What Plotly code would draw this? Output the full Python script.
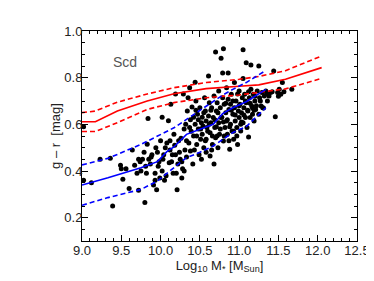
import plotly.graph_objects as go

# Scatter points (log10 M*, g-r)
pts_x = [9.02, 9.02, 9.12, 9.23, 9.36, 9.39, 9.49, 9.50, 9.56, 9.52, 9.60, 9.64, 9.67, 9.72, 9.74, 9.72, 9.70, 9.75,
         9.80, 9.83, 9.84, 9.82, 9.79, 9.85, 9.87, 9.89, 9.91, 9.93, 9.95, 9.93, 9.96, 9.98, 9.99, 10.00, 10.02, 10.02,
         10.04, 10.06, 10.07, 10.10, 10.11, 10.12, 10.13, 10.14, 10.16, 10.17, 10.19, 10.19, 10.21, 10.22, 10.23, 10.24,
         10.25, 10.26, 10.27, 10.28, 10.29, 10.30, 10.31, 10.32, 10.33, 10.34, 10.35, 10.37, 10.37, 10.38, 10.40, 10.41,
         10.42, 10.42, 10.44, 10.44, 10.45, 10.46, 10.47, 10.48, 10.49, 10.50, 10.51, 10.52, 10.53, 10.53, 10.54, 10.55,
         10.56, 10.57, 10.58, 10.58, 10.59, 10.61, 10.61, 10.62, 10.63, 10.63, 10.64, 10.65, 10.66, 10.67, 10.68, 10.68,
         10.69, 10.70, 10.70, 10.71, 10.72, 10.73, 10.74, 10.74, 10.75, 10.76, 10.77, 10.77, 10.79, 10.79, 10.80, 10.80,
         10.81, 10.82, 10.83, 10.84, 10.84, 10.85, 10.86, 10.86, 10.87, 10.88, 10.89, 10.89, 10.90, 10.91, 10.92, 10.93,
         10.94, 10.94, 10.95, 10.96, 10.97, 10.98, 10.99, 11.00, 11.00, 11.01, 11.02, 11.03, 11.04, 11.05, 11.05, 11.05,
         11.06, 11.07, 11.08, 11.09, 11.09, 11.10, 11.11, 11.12, 11.13, 11.14, 11.15, 11.15, 11.16, 11.17, 11.18, 11.19,
         11.20, 11.21, 11.23, 11.25, 11.25, 11.26, 11.28, 11.29, 11.30, 11.32, 11.34, 11.36, 11.38, 11.40, 11.44, 11.46,
         11.49, 11.51, 11.53, 11.55, 11.67,
         9.77, 9.81, 9.88, 9.94, 9.97, 10.03, 10.08, 10.18, 10.05, 10.15, 10.20, 10.27, 10.33, 10.36, 10.39, 10.43,
         10.46, 10.48, 10.51, 10.55, 10.57, 10.60, 10.62, 10.64, 10.66, 10.69, 10.71, 10.73, 10.76, 10.78, 10.81, 10.83,
         10.85, 10.88, 10.90, 10.92, 10.95, 10.97, 11.00, 11.03, 11.06, 11.08, 11.11, 11.14, 11.17, 11.20, 11.22, 11.27,
         10.52, 10.58, 10.65, 10.72, 10.80, 10.87, 10.93, 11.02, 10.38, 10.45, 10.30, 10.12, 10.98, 11.12, 11.19, 11.31,
         11.35, 11.42, 11.50, 11.57]
pts_y = [0.59, 0.36, 0.35, 0.45, 0.455, 0.25, 0.425, 0.41, 0.41, 0.365, 0.325, 0.49, 0.425, 0.45, 0.44, 0.317, 0.39, 0.40,
         0.265, 0.515, 0.625, 0.39, 0.48, 0.45, 0.43, 0.47, 0.34, 0.36, 0.32, 0.39, 0.48, 0.44, 0.37, 0.53, 0.40, 0.63,
         0.47, 0.50, 0.38, 0.615, 0.435, 0.49, 0.686, 0.44, 0.39, 0.557, 0.47, 0.73, 0.32, 0.43, 0.53, 0.48,
         0.45, 0.54, 0.37, 0.41, 0.73, 0.40, 0.49, 0.60, 0.53, 0.657, 0.714, 0.757, 0.586, 0.486, 0.674, 0.43,
         0.63, 0.55, 0.60, 0.78, 0.70, 0.514, 0.643, 0.58, 0.47, 0.671, 0.536, 0.607, 0.63, 0.557, 0.593, 0.50,
         0.714, 0.657, 0.614, 0.536, 0.586, 0.807, 0.636, 0.693, 0.464, 0.564, 0.607, 0.671, 0.514, 0.629, 0.721, 0.43,
         0.586, 0.91, 0.543, 0.657, 0.693, 0.50, 0.607, 0.743, 0.557, 0.671, 0.883, 0.629, 0.714, 0.82, 0.924, 0.529,
         0.686, 0.586, 0.65, 0.757, 0.614, 0.557, 0.82, 0.707, 0.664, 0.493, 0.60, 0.686, 0.729, 0.571, 0.643, 0.536,
         0.671, 0.779, 0.614, 0.70, 0.586, 0.514, 0.657, 0.743, 0.629, 0.686, 0.571, 0.65, 0.714, 0.92, 0.796, 0.607,
         0.671, 0.729, 0.629, 0.864, 0.693, 0.586, 0.657, 0.546, 0.714, 0.629, 0.854, 0.75, 0.679, 0.643, 0.729, 0.614,
         0.70, 0.664, 0.743, 0.643, 0.85, 0.714, 0.679, 0.736, 0.671, 0.721, 0.743, 0.70, 0.721, 0.736, 0.829, 0.633,
         0.736, 0.75, 0.729, 0.779, 0.75,
         0.45, 0.42, 0.46, 0.50, 0.42, 0.45, 0.52, 0.51, 0.36, 0.47, 0.39, 0.44, 0.46, 0.52, 0.57, 0.49,
         0.55, 0.62, 0.58, 0.65, 0.53, 0.57, 0.60, 0.66, 0.55, 0.62, 0.59, 0.65, 0.58, 0.63, 0.55, 0.69,
         0.62, 0.59, 0.66, 0.70, 0.64, 0.55, 0.68, 0.61, 0.64, 0.70, 0.66, 0.69, 0.67, 0.72, 0.68, 0.70,
         0.45, 0.48, 0.49, 0.55, 0.61, 0.53, 0.57, 0.60, 0.62, 0.66, 0.58, 0.53, 0.73, 0.74, 0.66, 0.67,
         0.73, 0.74, 0.72, 0.74]

# Red model (median and spread)
red_x = [9.0, 9.17, 9.45, 9.83, 10.17, 10.58, 11.0, 11.25, 11.59, 12.05]
red_mid = [0.611, 0.611, 0.657, 0.700, 0.731, 0.753, 0.763, 0.769, 0.793, 0.843]
red_hi = [0.650, 0.657, 0.695, 0.730, 0.757, 0.779, 0.793, 0.805, 0.830, 0.893]
red_lo = [0.569, 0.569, 0.607, 0.664, 0.693, 0.714, 0.726, 0.737, 0.752, 0.797]

# Blue model (median and spread)
blue_x = [9.0, 9.33, 9.75, 9.96, 10.08, 10.17, 10.33, 10.50, 10.67, 10.79, 10.92, 11.09, 11.34]
blue_mid = [0.340, 0.371, 0.414, 0.440, 0.483, 0.503, 0.557, 0.579, 0.600, 0.646, 0.671, 0.697, 0.750]
blue_hi = [0.426, 0.454, 0.514, 0.550, 0.570, 0.585, 0.621, 0.660, 0.697, 0.725, 0.750, 0.779, 0.831]
blue_lo = [0.253, 0.286, 0.321, 0.357, 0.390, 0.414, 0.457, 0.480, 0.507, 0.535, 0.565, 0.590, 0.671]

FONT = "Liberation Sans, Arial, sans-serif"

fig = go.Figure()
fig.add_trace(go.Scatter(x=pts_x, y=pts_y, mode="markers",
                         marker=dict(color="black", size=5), showlegend=False))
for ys, d in [(red_mid, "solid"), (red_hi, "5px,3px"), (red_lo, "5px,3px")]:
    fig.add_trace(go.Scatter(x=red_x, y=ys, mode="lines", line=dict(color="#ff0000", width=1.6, dash=d),
                             showlegend=False))
for ys, d in [(blue_mid, "solid"), (blue_hi, "5px,3px"), (blue_lo, "5px,3px")]:
    fig.add_trace(go.Scatter(x=blue_x, y=ys, mode="lines", line=dict(color="#0000ff", width=1.6, dash=d),
                             showlegend=False))

axis_common = dict(showgrid=False, zeroline=False, showline=True, linecolor="black", linewidth=1,
                   mirror="allticks", ticks="inside", tickcolor="black", ticklen=6,
                   tickfont=dict(family=FONT, size=13, color="#222"))
fig.update_xaxes(range=[9.0, 12.5], dtick=0.5, tick0=9.0, tickformat=".1f", ticklabelstandoff=-3,
                 minor=dict(dtick=0.1, ticks="inside", ticklen=3, tickcolor="black"),
                 title=dict(text="Log<sub>10</sub> M<sub>*</sub> [M<sub>Sun</sub>]", standoff=0,
                            font=dict(family=FONT, size=13, color="#222")),
                 **axis_common)
fig.update_yaxes(range=[0.1, 1.0], dtick=0.2, tick0=0.2, tickformat=".1f", ticklabelstandoff=-4,
                 minor=dict(dtick=0.05, ticks="inside", ticklen=3, tickcolor="black"),
                 title=dict(text="g \u2013 r  [mag]", standoff=0,
                            font=dict(family=FONT, size=13, color="#222")),
                 **axis_common)
fig.add_annotation(x=9.55, y=0.868, text="Scd", showarrow=False,
                   font=dict(family=FONT, size=14, color="#555"))
fig.update_layout(width=374, height=281, margin=dict(l=74, r=22, t=23, b=48),
                  plot_bgcolor="white", paper_bgcolor="white")
fig.write_html("out.html")
